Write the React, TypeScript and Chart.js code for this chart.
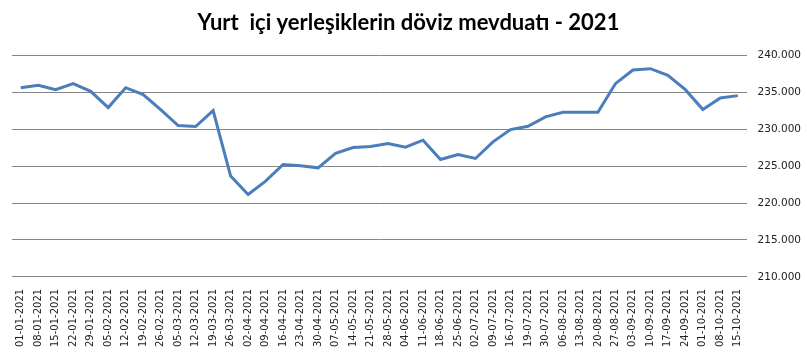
import React, { useEffect, useRef } from "react";
import { Chart, registerables } from "chart.js";

Chart.register(...registerables);

const TITLE = "Yurt  içi yerleşiklerin döviz mevduatı - 2021";

const dates: string[] = [
  "01-01-2021", "08-01-2021", "15-01-2021", "22-01-2021", "29-01-2021",
  "05-02-2021", "12-02-2021", "19-02-2021", "26-02-2021",
  "05-03-2021", "12-03-2021", "19-03-2021", "26-03-2021",
  "02-04-2021", "09-04-2021", "16-04-2021", "23-04-2021", "30-04-2021",
  "07-05-2021", "14-05-2021", "21-05-2021", "28-05-2021",
  "04-06-2021", "11-06-2021", "18-06-2021", "25-06-2021",
  "02-07-2021", "09-07-2021", "16-07-2021", "19-07-2021", "30-07-2021",
  "06-08-2021", "13-08-2021", "20-08-2021", "27-08-2021",
  "03-09-2021", "10-09-2021", "17-09-2021", "24-09-2021",
  "01-10-2021", "08-10-2021", "15-10-2021",
];

const deposits: number[] = [
  235630, 235950, 235360, 236170, 235140,
  232930, 235630, 234690, 232660,
  230490, 230360, 232520, 223650,
  221170, 222970, 225230, 225040, 224770,
  226720, 227530, 227660, 228070,
  227570, 228510, 225900, 226580,
  226040, 228290, 229950, 230410, 231670,
  232300, 232300, 232300, 236170,
  238020, 238200, 237300, 235360,
  232660, 234230, 234550,
];

const yMin = 210000;
const yMax = 240000;
const yStep = 5000;

function fmt(v: number): string {
  const s = Math.round(v).toString();
  return s.replace(/\B(?=(\d{3})+(?!\d))/g, ".");
}

export default function App() {
  const ref = useRef<HTMLCanvasElement | null>(null);
  useEffect(() => {
    if (!ref.current) return;
    const chart = new Chart(ref.current, {
      type: "line",
      data: {
        labels: dates,
        datasets: [
          {
            data: deposits,
            borderColor: "#4A7EBB",
            borderWidth: 3,
            pointRadius: 0,
            tension: 0,
            fill: false,
          },
        ],
      },
      options: {
        animation: false,
        responsive: true,
        maintainAspectRatio: false,
        layout: { padding: { left: 5, right: -5, top: 4, bottom: -1 } },
        plugins: {
          legend: { display: false },
          tooltip: { enabled: false },
          title: {
            display: true,
            text: TITLE,
            color: "#000000",
            font: { family: "Lato", size: 22, weight: "bold" },
            padding: { top: 6, bottom: 19 },
          },
        },
        scales: {
          x: {
            offset: true,
            afterFit: (s: any) => {
              s.paddingLeft = Math.max(s.paddingLeft, 12);
            },
            grid: {
              display: false,
              offset: true,
              drawOnChartArea: false,
              drawTicks: false,
            },
            border: { display: true, color: "#868686" },
            ticks: {
              autoSkip: false,
              maxRotation: 90,
              minRotation: 90,
              color: "#222222",
              font: { family: "DejaVu Sans", size: 10 },
              padding: 12,
            },
          },
          y: {
            position: "right",
            min: yMin,
            max: yMax,
            grid: {
              color: "#868686",
              lineWidth: 1,
              drawTicks: false,
            },
            border: { display: false },
            ticks: {
              stepSize: yStep,
              color: "#222222",
              font: { family: "DejaVu Sans", size: 10.5 },
              padding: 11,
              callback: (v: any) => fmt(Number(v)),
            },
          },
        },
      },
    });
    return () => chart.destroy();
  }, []);
  return (
    <div style={{ position: "fixed", left: 0, top: 0, width: 807, height: 358, background: "#fff" }}>
      <canvas ref={ref} />
    </div>
  );
}
